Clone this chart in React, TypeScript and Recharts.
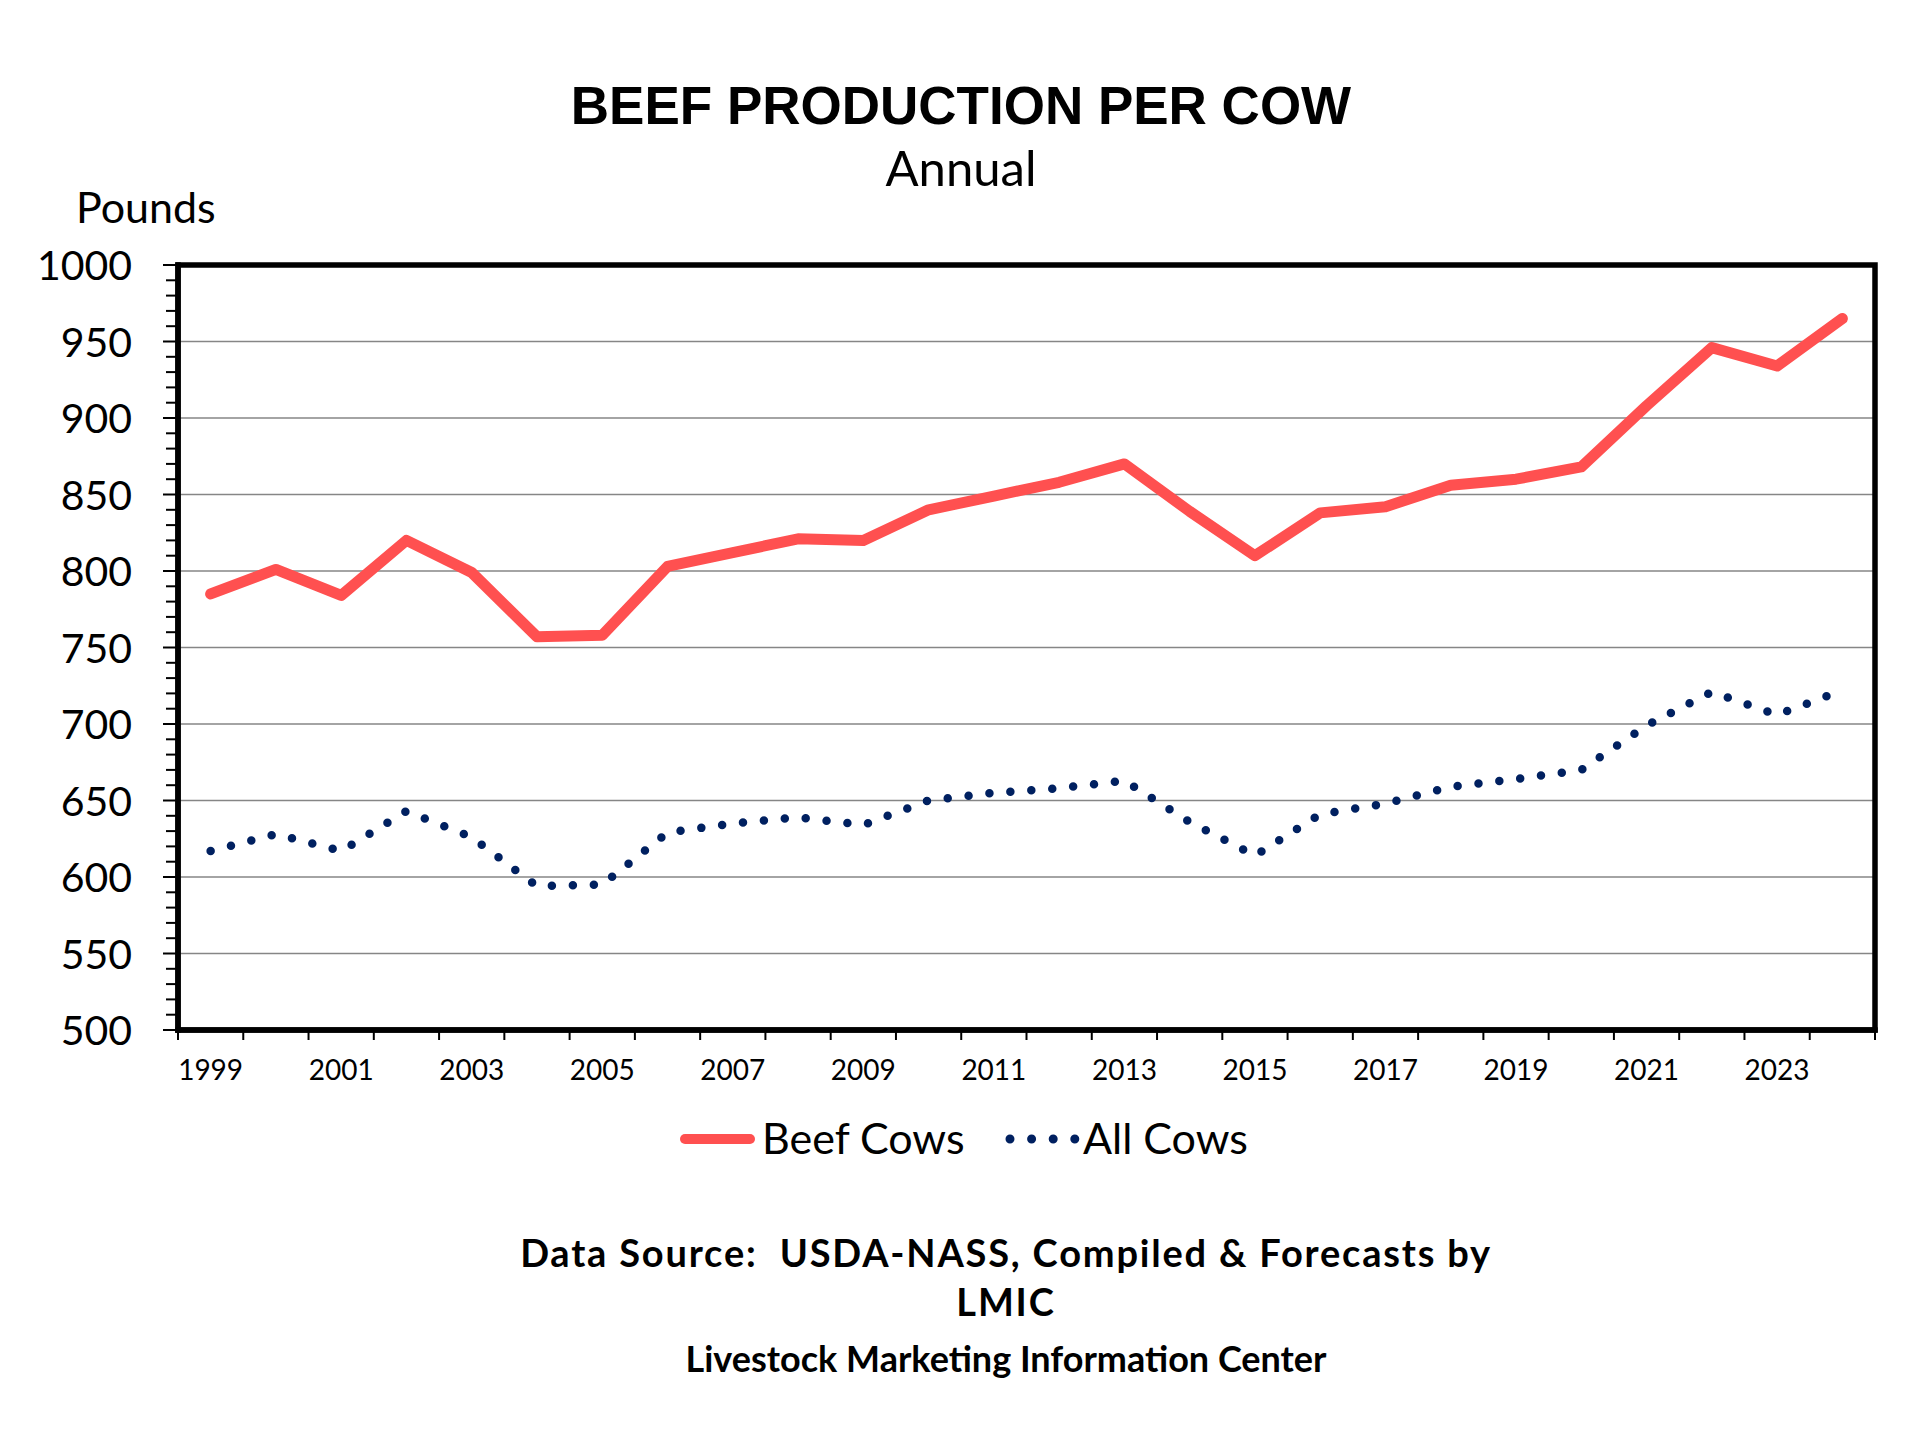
import React from 'react';
import { LineChart, Line, XAxis, YAxis, CartesianGrid } from 'recharts';

const years = [1999, 2000, 2001, 2002, 2003, 2004, 2005, 2006, 2007, 2008, 2009, 2010, 2011, 2012, 2013, 2014, 2015, 2016, 2017, 2018, 2019, 2020, 2021, 2022, 2023, 2024];
const beefCows = [785, 801, 784, 820, 799, 757, 758, 803, 812, 821, 820, 840, 849, 858, 870, 839, 810, 838, 842, 856, 860, 868, 908, 946, 934, 965];
const allCows = [617, 628, 617, 643, 626, 594, 595, 629, 635, 639, 634, 650, 655, 658, 663, 636, 614, 641, 648, 659, 664, 670, 699, 721, 706, 722];
const majorTicks = [500, 550, 600, 650, 700, 750, 800, 850, 900, 950, 1000];
const gridValues = [550, 600, 650, 700, 750, 800, 850, 900, 950];

const allTicks: number[] = [];
for (let v = 500; v <= 1000; v += 10) allTicks.push(v);

const data = years.map((year, i) => ({ year, beef: beefCows[i], all: allCows[i] }));

const W = 1920;
const H = 1440;
const PLOT_LEFT = 178;
const PLOT_RIGHT = 1875;
const PLOT_TOP = 265;
const PLOT_BOTTOM = 1030;
const XAXIS_H = 60;
const BW = (PLOT_RIGHT - PLOT_LEFT) / years.length;

const CAL = 'Lato, "Open Sans", sans-serif';
const RED = '#FF5050';
const NAVY = '#002060';

const YTick = (props: any) => {
  const { y, payload } = props;
  const v = payload.value as number;
  const major = majorTicks.includes(v);
  return (
    <g>
      <line x1={PLOT_LEFT - (major ? 15 : 12)} x2={PLOT_LEFT} y1={y} y2={y} stroke="#000" strokeWidth={2} />
      {major && (
        <text x={PLOT_LEFT - 46} y={y + 15} textAnchor="end" fontFamily={CAL} fontSize={41} fill="#000">
          {v}
        </text>
      )}
    </g>
  );
};

const XTick = (props: any) => {
  const { x, payload } = props;
  const yr = payload.value as number;
  const i = years.indexOf(yr);
  return (
    <g>
      <line x1={x - BW / 2} x2={x - BW / 2} y1={PLOT_BOTTOM} y2={PLOT_BOTTOM + 10} stroke="#000" strokeWidth={2} />
      {i === years.length - 1 && (
        <line x1={x + BW / 2} x2={x + BW / 2} y1={PLOT_BOTTOM} y2={PLOT_BOTTOM + 10} stroke="#000" strokeWidth={2} />
      )}
      {i % 2 === 0 && (
        <text x={x} y={1080} textAnchor="middle" fontFamily={CAL} fontSize={28} fill="#000">
          {yr}
        </text>
      )}
    </g>
  );
};

const borderLine = { stroke: '#000', strokeWidth: 5.5, strokeLinecap: 'square' as const };

export default function App() {
  return (
    <div style={{ position: 'absolute', left: 0, top: 0, width: W, height: H, background: '#fff' }}>
      <div style={{ position: 'absolute', left: 0, top: 0 }}>
        <LineChart
          width={W}
          height={H}
          data={data}
          margin={{ top: PLOT_TOP, right: W - PLOT_RIGHT, bottom: H - PLOT_BOTTOM - XAXIS_H, left: 0 }}
        >
          <CartesianGrid vertical={false} horizontal horizontalValues={gridValues} stroke="#868686" strokeWidth={1.5} />
          <XAxis
            dataKey="year"
            type="number"
            domain={[1998.5, 2024.5]}
            ticks={years}
            interval={0}
            height={XAXIS_H}
            tickLine={false}
            tickSize={0}
            tickMargin={0}
            axisLine={borderLine}
            tick={<XTick />}
          />
          <YAxis
            type="number"
            domain={[500, 1000]}
            ticks={allTicks}
            interval={0}
            width={PLOT_LEFT}
            tickLine={false}
            tickSize={0}
            tickMargin={0}
            axisLine={borderLine}
            tick={<YTick />}
          />
          <Line
            type="linear"
            dataKey="beef"
            name="Beef Cows"
            stroke={RED}
            strokeWidth={11}
            strokeLinecap="round"
            strokeLinejoin="round"
            dot={false}
            activeDot={false}
            isAnimationActive={false}
          />
          <Line
            type="linear"
            dataKey="all"
            name="All Cows"
            stroke={NAVY}
            strokeWidth={8.5}
            strokeDasharray="0 21"
            strokeLinecap="round"
            dot={false}
            activeDot={false}
            isAnimationActive={false}
          />
        </LineChart>
      </div>
      <svg width={W} height={H} style={{ position: 'absolute', left: 0, top: 0, pointerEvents: 'none' }}>
        {/* plot frame */}
        <rect
          x={PLOT_LEFT}
          y={PLOT_TOP}
          width={PLOT_RIGHT - PLOT_LEFT}
          height={PLOT_BOTTOM - PLOT_TOP}
          fill="none"
          stroke="#000"
          strokeWidth={5.5}
        />
        <text x={961} y={124} textAnchor="middle" fontFamily='"Liberation Sans", Arial, sans-serif' fontWeight={700} fontSize={53} fill="#000">
          BEEF PRODUCTION PER COW
        </text>
        <text x={961} y={186} textAnchor="middle" fontFamily={CAL} fontSize={49} fill="#000">
          Annual
        </text>
        <text x={76} y={223} fontFamily={CAL} fontSize={43} fill="#000">
          Pounds
        </text>
        {/* legend */}
        <line x1={685} x2={750} y1={1139} y2={1139} stroke={RED} strokeWidth={10} strokeLinecap="round" />
        <text x={762} y={1154} fontFamily={CAL} fontSize={43} fill="#000">
          Beef Cows
        </text>
        <line x1={1010} x2={1075} y1={1139} y2={1139} stroke={NAVY} strokeWidth={9} strokeDasharray="0 21.6" strokeLinecap="round" />
        <text x={1083} y={1154} fontFamily={CAL} fontSize={43} fill="#000">
          All Cows
        </text>
        {/* footer */}
        <text x={1006} y={1267} textAnchor="middle" fontFamily={CAL} fontWeight={700} fontSize={38} letterSpacing={1.8} fill="#000">
          Data Source:{'\u00a0\u00a0'}USDA-NASS, Compiled &amp; Forecasts by
        </text>
        <text x={1006} y={1316} textAnchor="middle" fontFamily={CAL} fontWeight={700} fontSize={38} letterSpacing={1.8} fill="#000">
          LMIC
        </text>
        <text x={1006} y={1372} textAnchor="middle" fontFamily={CAL} fontWeight={700} fontSize={36} fill="#000">
          Livestock Marketing Information Center
        </text>
      </svg>
    </div>
  );
}
